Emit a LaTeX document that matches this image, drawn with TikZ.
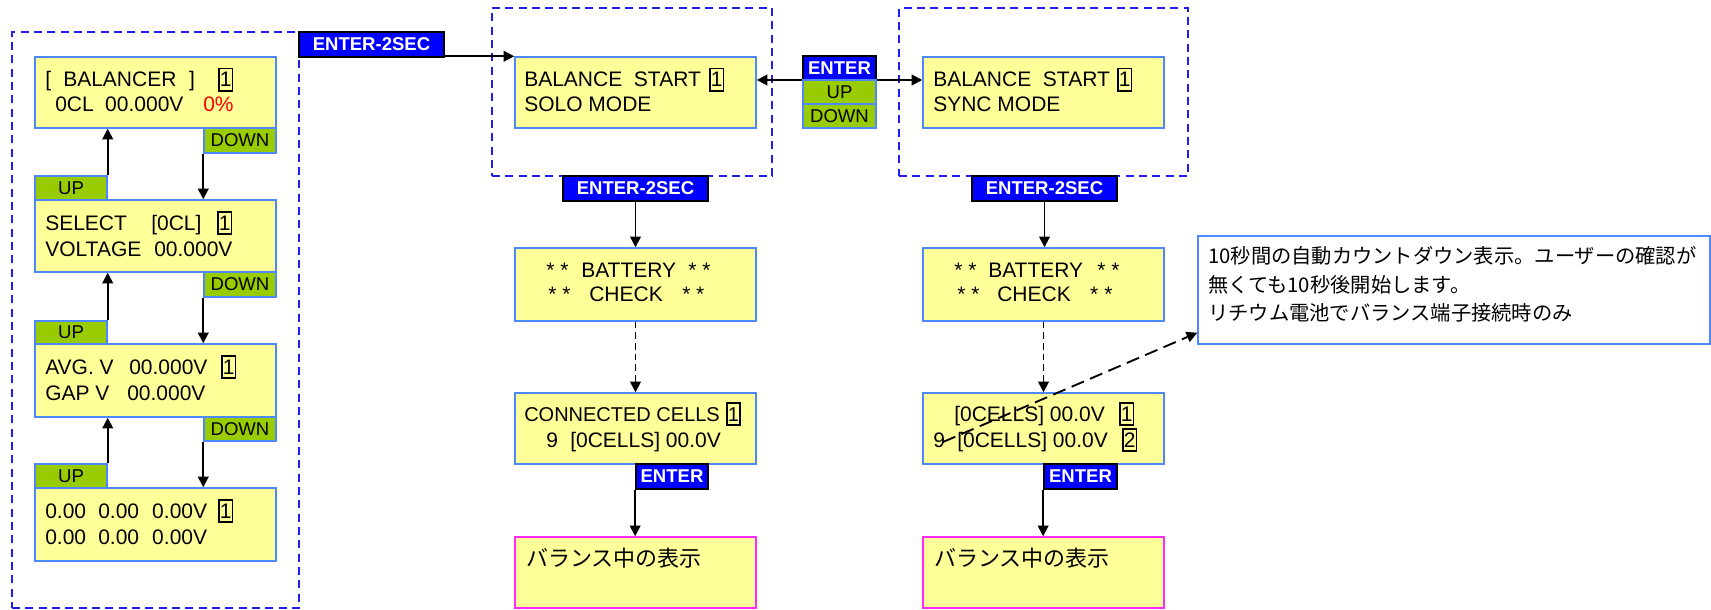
\documentclass[tikz,border=0pt]{standalone}
\usepackage{fontspec}
\setmainfont{Liberation Sans}
\newfontfamily\jp{Noto Sans CJK JP}
\usetikzlibrary{arrows.meta,fit,calc}

\newdimen\pxu \pxu=0.75pt
% framed cell index shown at the end of an LCD line
\newcommand\bx[1]{{\setlength\fboxsep{0pt}\setlength\fboxrule{1.2pt}\fbox{\rule[-3\pxu]{0pt}{20.5\pxu}#1}}}
% fixed-width text segment so each field starts at its own column
\newcommand\seg[2]{\makebox[#1\pxu][l]{#2}}

\definecolor{lcdfill}{RGB}{255,255,153}
\definecolor{lcdedge}{RGB}{77,136,255}
\definecolor{keygreen}{RGB}{153,204,0}
\definecolor{keyblue}{RGB}{0,0,255}
\definecolor{grpblue}{RGB}{30,30,240}
\definecolor{pinkedge}{RGB}{255,40,255}

\tikzset{
  lcd/.style={draw=lcdedge, fill=lcdfill, line width=1.1pt, inner sep=0pt},
  runbox/.style={draw=pinkedge, fill=lcdfill, line width=1.1pt, inner sep=0pt},
  note/.style={draw=lcdedge, fill=white, line width=1.1pt, inner sep=0pt},
  grp/.style={draw=grpblue, line width=1.3pt, dash pattern=on 6pt off 4pt, inner sep=0pt},
  keylbl/.style={draw=lcdedge, fill=keygreen, line width=1.1pt, inner sep=0pt},
  enterlbl/.style={draw=black, fill=keyblue, line width=1.3pt, inner sep=0pt},
  keyfont/.style={inner sep=0pt, font=\fontsize{13.9pt}{16pt}\selectfont},
  enterfont/.style={inner sep=0pt, text=white, font=\fontsize{13.9pt}{16pt}\selectfont\bfseries},
  txt/.style={anchor=base west, inner sep=0pt, font=\fontsize{15.75pt}{18pt}\selectfont},
  jptxt/.style={anchor=base west, inner sep=0pt, font=\jp\fontsize{16.5pt}{20pt}\selectfont},
  notetxt/.style={anchor=base west, inner sep=0pt, font=\jp\fontsize{15.2pt}{20pt}\selectfont},
  arr/.style={line width=1.4pt, -{Triangle[length=8pt,width=8pt]}},
  arrboth/.style={line width=1.4pt, {Triangle[length=8pt,width=8pt]}-{Triangle[length=8pt,width=8pt]}},
  darr/.style={arr, dash pattern=on 5pt off 3pt},
  larr/.style={arr, dash pattern=on 10pt off 5pt},
}

\begin{document}
\begin{tikzpicture}[x=0.75pt, y=-0.75pt]
\useasboundingbox (0,0) rectangle (1711,610);

% mode groups
\node[grp, fit={(12,32) (299,608)}] (gL) {};
\node[grp, fit={(492,8) (772,176)}] (gM) {};
\node[grp, fit={(899,8) (1188,176)}] (gR) {};

% ---------- balancer screens (left column) ----------
\node[lcd, fit={(35,57) (276,128)}] (bal) {};
\node[lcd, fit={(35,200) (276,272)}] (sel) {};
\node[lcd, fit={(35,344) (276,417)}] (avg) {};
\node[lcd, fit={(35,488) (276,561)}] (cellv) {};

\node[txt] (bal1) at (45,87) {\seg{18}{[}\seg{126}{BALANCER}\seg{29}{]}\bx{1}};
\node[txt] (bal2) at (55,112) {\seg{50}{0CL}\seg{98}{00.000V}\textcolor{red}{0\%}};
\node[txt] (sel1) at (45,230) {\seg{106}{SELECT}\seg{66}{[0CL]}\bx{1}};
\node[txt] (sel2) at (45,256) {\seg{109}{VOLTAGE}00.000V};
\node[txt] (avg1) at (45,374) {\seg{84}{AVG. V}\seg{92}{00.000V}\bx{1}};
\node[txt] (avg2) at (45,400) {\seg{82}{GAP V}00.000V};
\node[txt] (cv1) at (45,518) {\seg{53}{0.00}\seg{54}{0.00}\seg{66}{0.00V}\bx{1}};
\node[txt] (cv2) at (45,544) {\seg{53}{0.00}\seg{54}{0.00}0.00V};

\node[keylbl, fit={(204,128) (276,153)}, label={[keyfont]center:DOWN}] (down1) {};
\node[keylbl, fit={(35,176) (107,200)}, label={[keyfont]center:UP}] (up1) {};
\node[keylbl, fit={(204,272) (276,297)}, label={[keyfont]center:DOWN}] (down2) {};
\node[keylbl, fit={(35,321) (107,344)}, label={[keyfont]center:UP}] (up2) {};
\node[keylbl, fit={(204,417) (276,441)}, label={[keyfont]center:DOWN}] (down3) {};
\node[keylbl, fit={(35,464) (107,488)}, label={[keyfont]center:UP}] (up3) {};

\draw[arr] (up1.north east) -- (up1.north east |- bal.south);
\draw[arr] (down1.south west) -- (down1.south west |- sel.north);
\draw[arr] (up2.north east) -- (up2.north east |- sel.south);
\draw[arr] (down2.south west) -- (down2.south west |- avg.north);
\draw[arr] (up3.north east) -- (up3.north east |- avg.south);
\draw[arr] (down3.south west) -- (down3.south west |- cellv.north);

% ---------- start screens ----------
\node[lcd, fit={(515,57) (756,128)}] (solo) {};
\node[lcd, fit={(923,57) (1164,128)}] (sync) {};
\node[txt] (solo1) at (524,87) {\seg{185}{BALANCE\ \ START}\bx{1}};
\node[txt] (solo2) at (524,112) {SOLO MODE};
\node[txt] (sync1) at (933,87) {\seg{184}{BALANCE\ \ START}\bx{1}};
\node[txt] (sync2) at (933,112) {SYNC MODE};

\node[enterlbl, fit={(299,32) (444,57)}, label={[enterfont]center:ENTER-2SEC}] (enterA) {};
\draw[arr] (enterA.east |- solo.north west) -- (solo.north west);

\coordinate (swy) at (0,80);
\draw[arrboth] (solo.east |- swy) -- (sync.west |- swy);
\node[enterlbl, fit={(803,56) (876,80)}, label={[enterfont]center:ENTER}] (enterS) {};
\node[keylbl, fit={(803,80) (876,104)}, label={[keyfont]center:UP}] (upS) {};
\node[keylbl, fit={(803,104) (876,128)}, label={[keyfont]center:DOWN}] (downS) {};

\node[enterlbl, fit={(563,176) (708,201)}, label={[enterfont]center:ENTER-2SEC}] (enterM) {};
\node[enterlbl, fit={(972,176) (1117,201)}, label={[enterfont]center:ENTER-2SEC}] (enterR) {};

% ---------- battery check ----------
\node[lcd, fit={(515,248) (756,321)}] (bat1) {};
\node[lcd, fit={(923,248) (1164,321)}] (bat2) {};
\node[txt] (bat1a) at (546,277) {\seg{35}{* *}\seg{107}{BATTERY}* *};
\node[txt] (bat1b) at (548,301) {\seg{41}{* *}\seg{93}{CHECK}* *};
\node[txt] (bat2a) at (954,277) {\seg{34}{* *}\seg{109}{BATTERY}* *};
\node[txt] (bat2b) at (957,301) {\seg{40}{* *}\seg{93}{CHECK}* *};

\draw[arr] (enterM.south) -- (enterM.south |- bat1.north);
\draw[arr] (enterR.south) -- (enterR.south |- bat2.north);

% ---------- connected cells ----------
\node[lcd, fit={(515,393) (756,464)}] (conn) {};
\node[lcd, fit={(923,393) (1164,464)}] (cells) {};
\node[txt, font=\fontsize{15pt}{18pt}\selectfont] (conn1) at (524,421) {\seg{202}{CONNECTED CELLS}\bx{1}};
\node[txt] (conn2) at (546,447) {\seg{24}{9}[0CELLS] 00.0V};
\node[txt] (cells1) at (954,421) {\seg{165}{[0CELLS] 00.0V}\bx{1}};
\node[txt] (cells2) at (933,447) {\seg{24}{9}\seg{165}{[0CELLS] 00.0V}\bx{2}};

\draw[darr] (bat1.south) -- (conn.north);
\draw[darr] (bat2.south) -- (cells.north);

\node[enterlbl, fit={(636,464) (708,489)}, label={[enterfont]center:ENTER}] (enterC) {};
\node[enterlbl, fit={(1044,464) (1117,489)}, label={[enterfont]center:ENTER}] (enterD) {};

% ---------- balancing display ----------
\node[runbox, fit={(515,537) (756,608)}] (run1) {};
\node[runbox, fit={(923,537) (1164,608)}] (run2) {};
\node[jptxt] (run1t) at (526,566) {バランス中の表示};
\node[jptxt] (run2t) at (934,566) {バランス中の表示};

\draw[arr] (enterC.south west) -- (enterC.south west |- run1.north);
\draw[arr] (enterD.south west) -- (enterD.south west |- run2.north);

% ---------- countdown note ----------
\node[note, fit={(1198,236) (1710,344)}] (note) {};
\node[notetxt] (note1) at (1208,263.5) {10秒間の自動カウントダウン表示。ユーザーの確認が};
\node[notetxt] (note2) at (1208,292) {無くても10秒後開始します。};
\node[notetxt] (note3) at (1208,320.5) {リチウム電池でバランス端子接続時のみ};

\coordinate (noteref) at (943,442);
\draw[larr] (noteref) -- ($(note.south west)+(0,-12)$);
\end{tikzpicture}
\end{document}
